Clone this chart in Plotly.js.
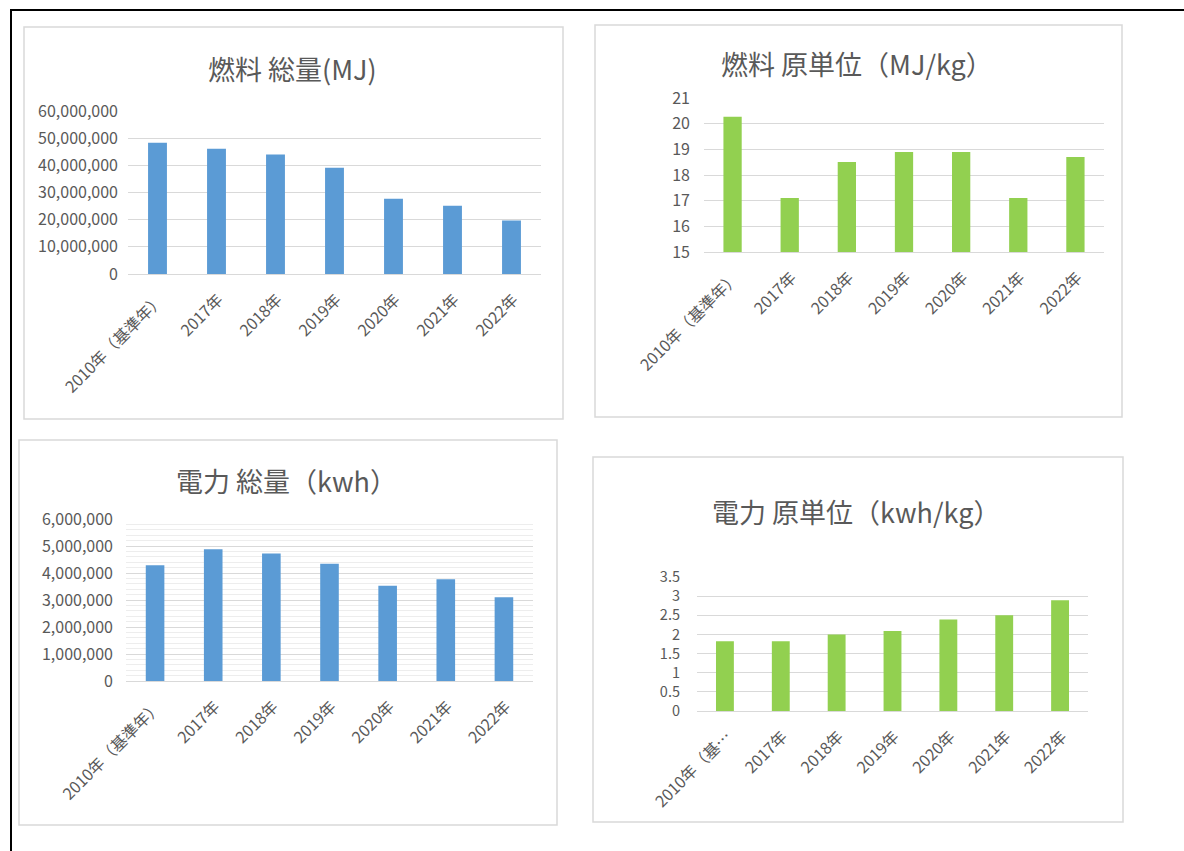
<!DOCTYPE html>
<html><head><meta charset="utf-8">
<script src="https://cdn.plot.ly/plotly-3.0.1.min.js"></script>
<style>html,body{margin:0;padding:0;background:#fff;overflow:hidden}#chart{width:1184px;height:851px;}</style>
</head><body><div id="chart"></div>
<script>
// ---- data ----
const years = ["2010年（基準年）","2017年","2018年","2019年","2020年","2021年","2022年"];
const yearsShort = ["2010年（基…","2017年","2018年","2019年","2020年","2021年","2022年"];
const fuelTotal = [48300000, 46100000, 44000000, 39100000, 27700000, 25100000, 19700000];
const fuelIntensity = [20.27, 17.1, 18.51, 18.9, 18.9, 17.1, 18.7];
const elecTotal = [4290000, 4880000, 4720000, 4340000, 3530000, 3770000, 3100000];
const elecIntensity = [1.82, 1.82, 2.0, 2.09, 2.39, 2.5, 2.89];
const titles = ["燃料 総量(MJ)","燃料 原単位（MJ/kg）","電力 総量（kwh）","電力 原単位（kwh/kg）"];

// ---- layout helpers ----
const W = 1184, H = 851;
const fx = p => p / W;
const fy = p => 1 - p / H;
const BLUE = "#5B9BD5", GREEN = "#92D050", GRID = "#D9D9D9", TXT = "#595959";
const FONT = "'Noto Sans CJK JP', 'Noto Sans', sans-serif";

const panels = [
  {x: years, y: fuelTotal, color: BLUE, plot: [128, 111, 541, 274], box: [24, 27, 563, 419], title: [292, 68], yoff: 9, yfs: 16,
   yaxis: {range: [0, 60000000], dtick: 10000000, tickformat: ","}},
  {x: years, y: fuelIntensity, color: GREEN, plot: [704, 98, 1104, 252], box: [595, 25, 1122, 417], title: [857, 64], yoff: 13, yfs: 16,
   yaxis: {range: [15, 21], dtick: 1}},
  {x: years, y: elecTotal, color: BLUE, plot: [126, 519, 533, 681], box: [19, 440, 557, 825], title: [286, 481], yoff: 12, yfs: 16,
   yaxis: {range: [0, 6000000], dtick: 1000000, tickformat: ",",
           minor: {dtick: 200000, showgrid: true, gridcolor: "#EDEDED", gridwidth: 1, ticks: ""}}},
  {x: yearsShort, y: elecIntensity, color: GREEN, plot: [697, 577, 1088, 711], box: [593, 457, 1123, 822], title: [856, 511], yoff: 16, yfs: 14.5,
   yaxis: {range: [0, 3.5], dtick: 0.5}}
];

const data = [];
const layout = {
  width: W, height: H, margin: {l: 0, r: 0, t: 0, b: 0},
  paper_bgcolor: "#fff", plot_bgcolor: "rgba(0,0,0,0)",
  showlegend: false,
  font: {family: FONT, color: TXT},
  shapes: [], annotations: []
};

panels.forEach((p, i) => {
  const n = i === 0 ? "" : String(i + 1);
  data.push({
    type: "bar", x: p.x, y: p.y, xaxis: "x" + n, yaxis: "y" + n,
    marker: {color: p.color}, width: 0.32, hoverinfo: "skip"
  });
  layout["xaxis" + n] = {
    domain: [fx(p.plot[0]), fx(p.plot[2])], anchor: "y" + n,
    type: "category", range: [-0.5, 6.5], fixedrange: true,
    showgrid: false, showline: true, linecolor: GRID, linewidth: 1,
    ticks: "", tickangle: -45, ticklabelstandoff: 9, ticklabelshift: 2,
    tickfont: {family: FONT, size: 16, color: TXT}
  };
  layout["yaxis" + n] = Object.assign({
    domain: [fy(p.plot[3]), fy(p.plot[1])], anchor: "x" + n,
    fixedrange: true, showgrid: true, gridcolor: GRID, gridwidth: 1,
    zeroline: false, showline: false, ticks: "", ticklabelstandoff: p.yoff,
    tickfont: {family: FONT, size: p.yfs, color: TXT}
  }, p.yaxis);
  layout.shapes.push({type: "rect", xref: "paper", yref: "paper",
    x0: fx(p.box[0]), x1: fx(p.box[2]), y0: fy(p.box[3]), y1: fy(p.box[1]),
    line: {color: GRID, width: 1.5}, layer: "below"});
  layout.annotations.push({xref: "paper", yref: "paper", x: fx(p.title[0]), y: fy(p.title[1]),
    xanchor: "center", yanchor: "middle", showarrow: false, text: titles[i],
    font: {family: FONT, size: 27, color: TXT}});
});

// outer frame (top and left)
layout.shapes.push({type: "line", xref: "paper", yref: "paper", x0: fx(10), x1: 1, y0: fy(10), y1: fy(10), line: {color: "#000", width: 2}});
layout.shapes.push({type: "line", xref: "paper", yref: "paper", x0: fx(11), x1: fx(11), y0: fy(10), y1: 0, line: {color: "#000", width: 2}});

Plotly.newPlot("chart", data, layout, {displayModeBar: false, staticPlot: true});
</script></body></html>
